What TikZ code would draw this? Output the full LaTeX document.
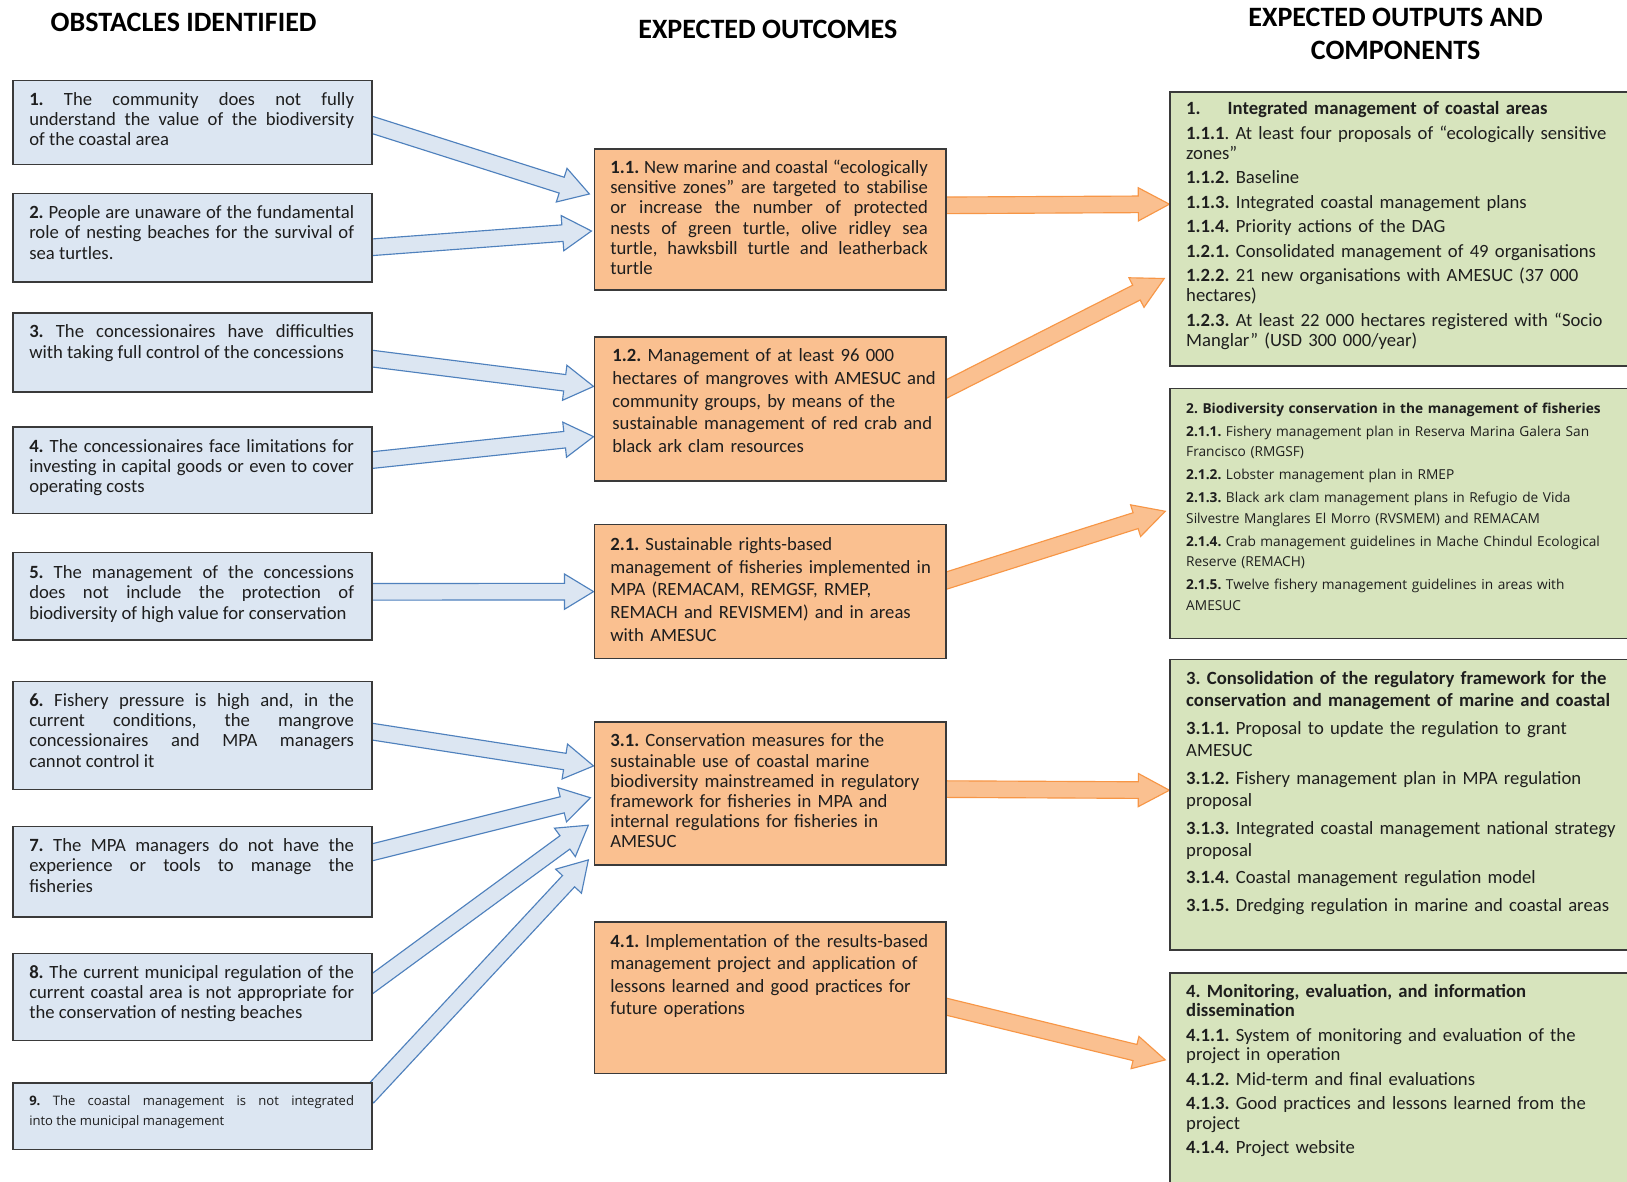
\documentclass[tikz,border=0pt]{standalone}
\usepackage{fontspec}
\setmainfont{Carlito}
\newfontfamily\osans{Open Sans}
\usetikzlibrary{calc,backgrounds}
\frenchspacing
\definecolor{bluefill}{HTML}{DCE6F2}
\definecolor{blueline}{HTML}{4F81BD}
\definecolor{orangefill}{HTML}{FAC090}
\definecolor{orangeline}{HTML}{F79646}
\definecolor{greenfill}{HTML}{D7E4BD}
\definecolor{boxline}{HTML}{3A3A3A}
\definecolor{txt}{HTML}{1E1E1E}

% #1 style, #2 start, #3 tip, #4 half shaft, #5 half head, #6 head length
\newcommand\blockarrow[6]{%
  \coordinate (ba-h) at ($(#3)!#6!(#2)$);
  \draw[#1] ($(#2)!#4!90:(#3)$) -- ($(ba-h)!#4!90:(#3)$) -- ($(ba-h)!#5!90:(#3)$) -- (#3)
    -- ($(ba-h)!#5!-90:(#3)$) -- ($(ba-h)!#4!-90:(#3)$) -- ($(#2)!#4!-90:(#3)$) -- cycle;
}

\tikzset{
  box/.style={draw=boxline, line width=1.3pt, anchor=north west, inner sep=0pt},
  lbox/.style={box, fill=bluefill, minimum width=346pt},
  mbox/.style={box, fill=orangefill, minimum width=339pt},
  rbox/.style={box, fill=greenfill, minimum width=470pt},
  txtnode/.style={anchor=north west, inner sep=0pt, text=txt, execute at begin node=\frenchspacing},
  ltext/.style={txtnode, text width=313pt, align=justify, font=\fontsize{18}{19.5}\selectfont},
  lsmall/.style={txtnode, text width=313pt, align=justify, font=\osans\fontsize{12.6}{19}\selectfont},
  mjust/.style={txtnode, text width=306pt, align=justify, font=\fontsize{18}{19.5}\selectfont},
  mtext/.style={txtnode, text width=322pt, align=left, font=\fontsize{18}{#1}\selectfont},
  rtext/.style={txtnode, text width=430pt, align=left, font=\fontsize{18}{#1}\selectfont},
  rsmall/.style={txtnode, text width=440pt, align=left, font=\osans\fontsize{13.2}{20}\selectfont},
  hdr/.style={font=\bfseries\fontsize{27}{32}\selectfont, text=black, inner sep=0pt, align=center},
  barrow/.style={draw=blueline, fill=bluefill, line width=1.1pt, line join=miter},
  oarrow/.style={draw=orangeline, fill=orangefill, line width=1.1pt, line join=miter},
}

\begin{document}
\begin{tikzpicture}[x=1pt,y=-1pt]
\useasboundingbox (0,0) rectangle (1568,1139);

% headers
\node[hdr] (h1) at (177,22) {OBSTACLES IDENTIFIED};
\node[hdr] (h2) at (740,28) {EXPECTED OUTCOMES};
\node[hdr] (h3) at (1345,33) {EXPECTED OUTPUTS AND\\COMPONENTS};

% obstacles
\node[lbox, minimum height=81pt] (o1) at (12,77) {};
\node[lbox, minimum height=85pt] (o2) at (12,186) {};
\node[lbox, minimum height=76pt] (o3) at (12,301) {};
\node[lbox, minimum height=83pt] (o4) at (12,411) {};
\node[lbox, minimum height=84pt] (o5) at (12,532) {};
\node[lbox, minimum height=104pt] (o6) at (12,656) {};
\node[lbox, minimum height=87pt] (o7) at (12,796) {};
\node[lbox, minimum height=84pt] (o8) at (12,918) {};
\node[lbox, minimum height=64pt] (o9) at (12,1043) {};

\node[ltext] (o1t) at ($(o1.north west)+(16,12)$) {\textbf{1.} The community does not fully\linebreak understand the value of the biodiversity\linebreak of the coastal area};
\node[ltext] (o2t) at ($(o2.north west)+(16,12)$) {\textbf{2.} People are unaware of the fundamental\linebreak role of nesting beaches for the survival of\linebreak sea turtles.};
\node[ltext] (o3t) at ($(o3.north west)+(16,12)$) {\textbf{3.} The concessionaires have difficulties\linebreak with taking full control of the concessions};
\node[ltext] (o4t) at ($(o4.north west)+(16,12)$) {\textbf{4.} The concessionaires face limitations for\linebreak investing in capital goods or even to cover\linebreak operating costs};
\node[ltext] (o5t) at ($(o5.north west)+(16,13)$) {\textbf{5.} The management of the concessions\linebreak does not include the protection of\linebreak biodiversity of high value for conservation};
\node[ltext] (o6t) at ($(o6.north west)+(16,12)$) {\textbf{6.} Fishery pressure is high and, in the\linebreak current conditions, the mangrove\linebreak concessionaires and MPA managers\linebreak cannot control it};
\node[ltext] (o7t) at ($(o7.north west)+(16,12)$) {\textbf{7.} The MPA managers do not have the\linebreak experience or tools to manage the\linebreak fisheries};
\node[ltext] (o8t) at ($(o8.north west)+(16,12)$) {\textbf{8.} The current municipal regulation of the\linebreak current coastal area is not appropriate for\linebreak the conservation of nesting beaches};
\node[lsmall] (o9t) at ($(o9.north west)+(16,13)$) {\textbf{9.} The coastal management is not integrated\linebreak into the municipal management};

% outcomes
\node[mbox, minimum height=136pt] (m11) at (572,143) {};
\node[mbox, minimum height=139pt] (m12) at (572,324) {};
\node[mbox, minimum height=129pt] (m21) at (572,505) {};
\node[mbox, minimum height=138pt] (m31) at (572,695) {};
\node[mbox, minimum height=146pt] (m41) at (572,888) {};

\node[mjust] (m11t) at ($(m11.north west)+(16,11)$) {\textbf{1.1.} New marine and coastal “ecologically\linebreak sensitive zones” are targeted to stabilise\linebreak or increase the number of protected\linebreak nests of green turtle, olive ridley sea\linebreak turtle, hawksbill turtle and leatherback\linebreak turtle};
\node[mtext=21.8] (m12t) at ($(m12.north west)+(18,12)$) {\textbf{1.2.} Management of at least 96 000\\hectares of mangroves with AMESUC and\\community groups, by means of the\\sustainable management of red crab and\\black ark clam resources};
\node[mtext=21.8] (m21t) at ($(m21.north west)+(16,13)$) {\textbf{2.1.} Sustainable rights-based\\management of fisheries implemented in\\MPA (REMACAM, REMGSF, RMEP,\\REMACH and REVISMEM) and in areas\\with AMESUC};
\node[mtext=19.5] (m31t) at ($(m31.north west)+(16,12)$) {\textbf{3.1.} Conservation measures for the\\sustainable use of coastal marine\\biodiversity mainstreamed in regulatory\\framework for fisheries in MPA and\\internal regulations for fisheries in\\AMESUC};
\node[mtext=21.8] (m41t) at ($(m41.north west)+(16,12)$) {\textbf{4.1.} Implementation of the results-based\\management project and application of\\lessons learned and good practices for\\future operations};

% outputs
\node[rbox, minimum height=264pt] (r1) at (1127,88) {};
\node[rbox, minimum height=241pt] (r2) at (1127,374) {};
\node[rbox, minimum height=280pt] (r3) at (1127,635) {};
\node[rbox, minimum height=240pt] (r4) at (1127,937) {};

\node[rtext=19.5] (r1t) at ($(r1.north west)+(16,10)$) {\textbf{1.}\hspace{26pt}\textbf{Integrated management of coastal areas}\\[4pt]
\textbf{1.1.1}. At least four proposals of “ecologically sensitive\\zones”\\[4pt]
\textbf{1.1.2.} Baseline\\[4pt]
\textbf{1.1.3.} Integrated coastal management plans\\[4pt]
\textbf{1.1.4.} Priority actions of the DAG\\[4pt]
\textbf{1.2.1.} Consolidated management of 49 organisations\\[4pt]
\textbf{1.2.2.} 21 new organisations with AMESUC (37 000\\hectares)\\[4pt]
\textbf{1.2.3.} At least 22 000 hectares registered with “Socio\\Manglar” (USD 300 000/year)};

\node[rsmall] (r2t) at ($(r2.north west)+(16,14)$) {\textbf{2. Biodiversity conservation in the management of fisheries}\\[2pt]
\textbf{2.1.1.} Fishery management plan in Reserva Marina Galera San\\Francisco (RMGSF)\\[2pt]
\textbf{2.1.2.} Lobster management plan in RMEP\\[2pt]
\textbf{2.1.3.} Black ark clam management plans in Refugio de Vida\\Silvestre Manglares El Morro (RVSMEM) and REMACAM\\[2pt]
\textbf{2.1.4.} Crab management guidelines in Mache Chindul Ecological\\Reserve (REMACH)\\[2pt]
\textbf{2.1.5.} Twelve fishery management guidelines in areas with\\AMESUC};

\node[rtext=21.5] (r3t) at ($(r3.north west)+(16,12)$) {\textbf{3. Consolidation of the regulatory framework for the}\\\textbf{conservation and management of marine and coastal}\\[5pt]
\textbf{3.1.1.} Proposal to update the regulation to grant\\AMESUC\\[5pt]
\textbf{3.1.2.} Fishery management plan in MPA regulation\\proposal\\[5pt]
\textbf{3.1.3.} Integrated coastal management national strategy\\proposal\\[5pt]
\textbf{3.1.4.} Coastal management regulation model\\[5pt]
\textbf{3.1.5.} Dredging regulation in marine and coastal areas};

\node[rtext=19] (r4t) at ($(r4.north west)+(16,11)$) {\textbf{4. Monitoring, evaluation, and information}\\\textbf{dissemination}\\[4.5pt]
\textbf{4.1.1.} System of monitoring and evaluation of the\\project in operation\\[4.5pt]
\textbf{4.1.2.} Mid-term and final evaluations\\[4.5pt]
\textbf{4.1.3.} Good practices and lessons learned from the\\project\\[4.5pt]
\textbf{4.1.4.} Project website};

% connector end points
\coordinate (a1s) at ($(o1.north east)!0.51!(o1.south east)+(-5,0)$);
\coordinate (a1t) at ($(m11.north west)!0.32!(m11.south west)+(-4,0)$);
\coordinate (a2s) at ($(o2.north east)!0.61!(o2.south east)+(-5,0)$);
\coordinate (a2t) at ($(m11.north west)!0.58!(m11.south west)+(-2,0)$);
\coordinate (a3s) at ($(o3.north east)!0.57!(o3.south east)+(-5,0)$);
\coordinate (a3t) at ($(m12.north west)!0.345!(m12.south west)$);
\coordinate (a4s) at ($(o4.north east)!0.39!(o4.south east)+(-5,0)$);
\coordinate (a4t) at ($(m12.north west)!0.69!(m12.south west)$);
\coordinate (a5s) at ($(o5.north east)!0.45!(o5.south east)+(-5,0)$);
\coordinate (a5t) at ($(m21.north west)!0.5!(m21.south west)$);
\coordinate (a6s) at ($(o6.north east)!0.46!(o6.south east)+(-5,0)$);
\coordinate (a6t) at ($(m31.north west)!0.31!(m31.south west)$);
\coordinate (a7s) at ($(o7.north east)!0.30!(o7.south east)+(-5,0)$);
\coordinate (a7t) at ($(m31.north west)!0.53!(m31.south west)+(-3,0)$);
\coordinate (a8s) at ($(o8.north east)!0.39!(o8.south east)+(-5,0)$);
\coordinate (a8t) at ($(m31.north west)!0.72!(m31.south west)+(-5,0)$);
\coordinate (a9s) at ($(o9.north east)!0.22!(o9.south east)+(-5,0)$);
\coordinate (a9t) at ($(m31.north west)!0.96!(m31.south west)+(-5,0)$);

\coordinate (b1s) at ($(m11.north east)!0.40!(m11.south east)+(-5,0)$);
\coordinate (b1t) at ($(r1.north west)!0.41!(r1.south west)$);
\coordinate (b2s) at ($(m12.north east)!0.38!(m12.south east)+(-5,0)$);
\coordinate (b2t) at ($(r1.north west)!0.68!(r1.south west)+(-5,0)$);
\coordinate (b3s) at ($(m21.north east)!0.43!(m21.south east)+(-5,0)$);
\coordinate (b3t) at ($(r2.north west)!0.49!(r2.south west)+(-4,0)$);
\coordinate (b4s) at ($(m31.north east)!0.47!(m31.south east)+(-5,0)$);
\coordinate (b4t) at ($(r3.north west)!0.45!(r3.south west)$);
\coordinate (b5s) at ($(m41.north east)!0.55!(m41.south east)+(-5,0)$);
\coordinate (b5t) at ($(r4.north west)!0.35!(r4.south west)+(-4,0)$);

\begin{pgfonlayer}{background}
  \fill[white] (0,0) rectangle (1568,1139);
  \blockarrow{barrow}{a1s}{a1t}{8pt}{17pt}{28pt}
  \blockarrow{barrow}{a2s}{a2t}{8pt}{17pt}{28pt}
  \blockarrow{barrow}{a3s}{a3t}{8pt}{17pt}{28pt}
  \blockarrow{barrow}{a4s}{a4t}{8pt}{17pt}{28pt}
  \blockarrow{barrow}{a5s}{a5t}{8pt}{17pt}{28pt}
  \blockarrow{barrow}{a6s}{a6t}{8pt}{17pt}{28pt}
  \blockarrow{barrow}{a7s}{a7t}{8pt}{17pt}{28pt}
  \blockarrow{barrow}{a8s}{a8t}{8pt}{17pt}{28pt}
  \blockarrow{barrow}{a9s}{a9t}{8pt}{17pt}{28pt}
  \blockarrow{oarrow}{b1s}{b1t}{8pt}{16pt}{30pt}
  \blockarrow{oarrow}{b2s}{b2t}{8pt}{16pt}{30pt}
  \blockarrow{oarrow}{b3s}{b3t}{8pt}{16pt}{30pt}
  \blockarrow{oarrow}{b4s}{b4t}{8pt}{16pt}{30pt}
  \blockarrow{oarrow}{b5s}{b5t}{8pt}{16pt}{30pt}
\end{pgfonlayer}
\end{tikzpicture}
\end{document}
